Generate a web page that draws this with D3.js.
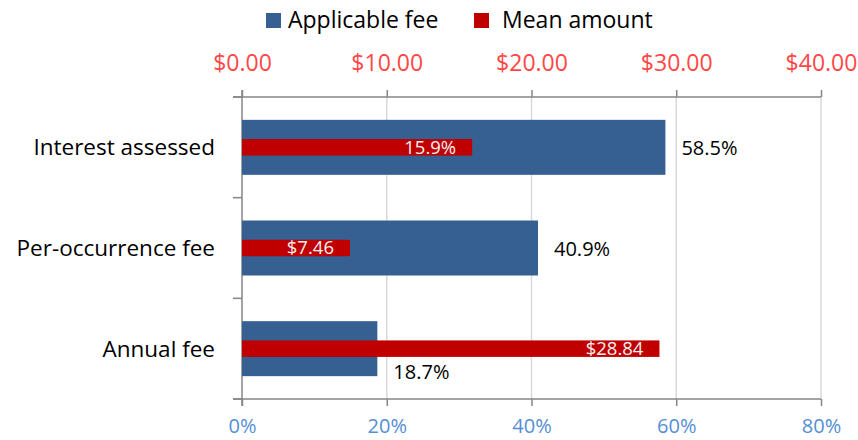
<!DOCTYPE html>
<html>
<head>
<meta charset="utf-8">
<script src="https://cdn.jsdelivr.net/npm/d3@7"></script>
<style>
  html, body { margin: 0; padding: 0; background: #fff; }
  svg { display: block; font-family: "Open Sans", sans-serif; }
</style>
</head>
<body>
<svg id="chart" width="858" height="440"></svg>
<script>
// Fee categories, top to bottom
const categories = ["Interest assessed", "Per-occurrence fee", "Annual fee"];
// Share of accounts where the fee applies (%)
const applicableFee = [58.5, 40.9, 18.7];
// Mean amount charged (dollars; interest shown as a rate)
const meanAmount = [15.9, 7.46, 28.84];
const meanLabels = ["15.9%", "$7.46", "$28.84"];
// Axis ticks
const pctTicks = [0, 20, 40, 60, 80];
const dollarTicks = [0, 10, 20, 30, 40];

const svg = d3.select("#chart");
const plotLeft = 242, plotRight = 821, plotTop = 97, plotBottom = 399;

const x = d3.scaleLinear().domain([0, 80]).range([plotLeft, plotRight]);
const x2 = d3.scaleLinear().domain([0, 40]).range([plotLeft, plotRight]);
const y = d3.scaleBand().domain(categories).range([plotTop, plotBottom]);

const blueH = 55, redH = 16.5;

// Vertical gridlines
svg.append("g").selectAll("line").data(pctTicks.slice(1)).join("line")
  .attr("x1", d => x(d)).attr("x2", d => x(d))
  .attr("y1", plotTop).attr("y2", plotBottom)
  .attr("stroke", "#d9d9d9").attr("stroke-width", 1.5);

// Bottom percentage axis
const gBottom = svg.append("g").attr("transform", `translate(0,${plotBottom})`)
  .call(d3.axisBottom(x).tickValues(pctTicks).tickFormat(d => d + "%").tickSize(7).tickSizeOuter(0).tickPadding(13));
// Top dollar axis
const gTop = svg.append("g").attr("transform", `translate(0,${plotTop})`)
  .call(d3.axisTop(x2).tickValues(dollarTicks).tickFormat(d => "$" + d.toFixed(2)).tickSize(7).tickSizeOuter(0).tickPadding(19));

[gBottom, gTop].forEach(g => {
  g.select(".domain").attr("stroke", "#868686").attr("stroke-width", 1.5)
    .attr("d", `M${plotLeft - 9},0H${plotRight}`);
  g.selectAll(".tick line").attr("stroke", "#868686").attr("stroke-width", 1.5);
  g.selectAll("text").attr("font-family", "'Open Sans', sans-serif");
});
gBottom.selectAll("text").attr("fill", "#558ed5").attr("font-size", 20);
gTop.selectAll("text").attr("fill", "#ff4747").attr("font-size", 23);

// Left category axis
const boundaries = [plotTop, ...categories.map(c => y(c) + y.bandwidth())];
svg.append("line").attr("x1", plotLeft).attr("x2", plotLeft).attr("y1", plotTop - 7).attr("y2", plotBottom + 7)
  .attr("stroke", "#868686").attr("stroke-width", 1.5);
svg.append("g").selectAll("line").data(boundaries).join("line")
  .attr("x1", plotLeft - 9).attr("x2", plotLeft).attr("y1", d => d).attr("y2", d => d)
  .attr("stroke", "#868686").attr("stroke-width", 1.5);
svg.append("g").selectAll("text").data(categories).join("text")
  .attr("x", 215).attr("y", d => y(d) + y.bandwidth() / 2)
  .attr("dy", "0.35em").attr("text-anchor", "end")
  .attr("font-size", 22.5).attr("fill", "#000").text(d => d);

// Applicable fee bars
svg.append("g").selectAll("rect").data(categories).join("rect")
  .attr("x", x(0)).attr("y", d => y(d) + y.bandwidth() / 2 - blueH / 2)
  .attr("width", (d, i) => x(applicableFee[i]) - x(0)).attr("height", blueH)
  .attr("fill", "#376092");

// Mean amount bars
svg.append("g").selectAll("rect").data(categories).join("rect")
  .attr("x", x2(0)).attr("y", d => y(d) + y.bandwidth() / 2 - redH / 2)
  .attr("width", (d, i) => x2(meanAmount[i]) - x2(0)).attr("height", redH)
  .attr("fill", "#c00000");

// Mean amount labels, inside the bar end
svg.append("g").selectAll("text").data(categories).join("text")
  .attr("x", (d, i) => x2(meanAmount[i]) - 16)
  .attr("y", d => y(d) + y.bandwidth() / 2)
  .attr("dy", "0.35em").attr("text-anchor", "end")
  .attr("font-size", 18.5).attr("fill", "#f2f2f2").text((d, i) => meanLabels[i]);

// Applicable fee labels, outside the bar end; dropped below when the red bar runs past
svg.append("g").selectAll("text").data(categories).join("text")
  .attr("x", (d, i) => x(applicableFee[i]) + 16)
  .attr("y", (d, i) => y(d) + y.bandwidth() / 2 + (x2(meanAmount[i]) > x(applicableFee[i]) ? 23 : 1))
  .attr("dy", "0.35em").attr("text-anchor", "start")
  .attr("font-size", 20).attr("fill", "#000").text((d, i) => applicableFee[i].toFixed(1) + "%");

// Legend
const legend = svg.append("g").attr("font-size", 23);
const legendItems = [
  { label: "Applicable fee", color: "#376092", x: 266, tx: 288 },
  { label: "Mean amount", color: "#c00000", x: 474, tx: 502 }
];
legendItems.forEach(it => {
  legend.append("rect").attr("x", it.x).attr("y", 13).attr("width", 15).attr("height", 15).attr("fill", it.color);
  legend.append("text").attr("x", it.tx).attr("y", 28).attr("fill", "#000").text(it.label);
});
</script>
</body>
</html>
